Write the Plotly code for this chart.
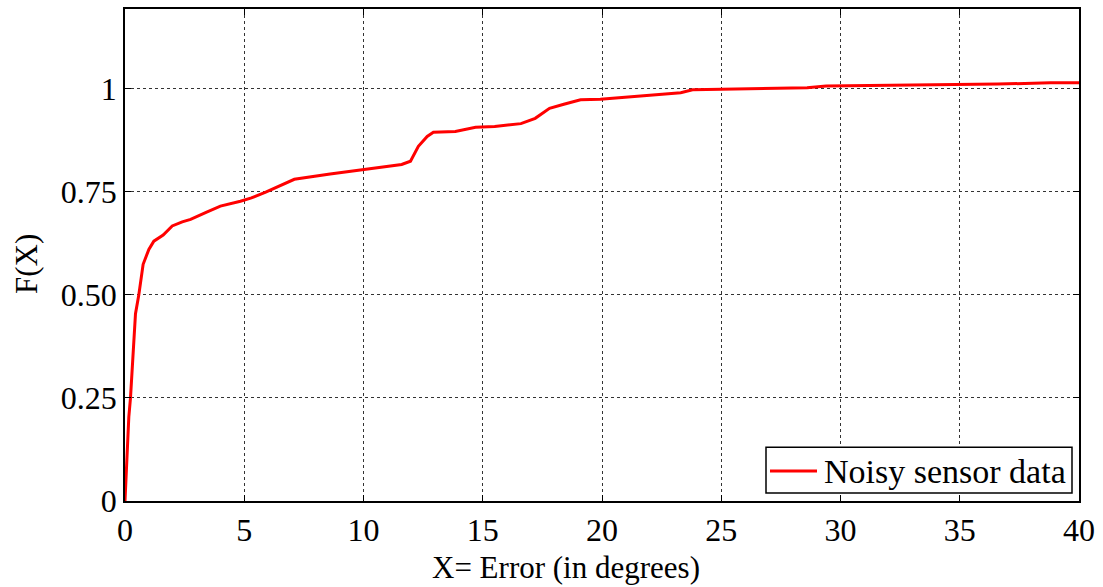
import plotly.graph_objects as go

# Empirical CDF of orientation error for the noisy sensor
error_deg = [0, 0.06, 0.16, 0.23, 0.37, 0.44, 0.58, 0.76, 1.0, 1.21, 1.6, 1.98, 2.4, 2.75,
             3.4, 4.0, 4.84, 5.3, 5.9, 6.5, 7.1, 8.6, 10.0, 10.9, 11.6, 11.97, 12.3, 12.67,
             12.93, 13.85, 14.7, 15.5, 16.6, 17.2, 17.8, 18.4, 19.1, 19.93, 21.3, 23.3, 23.8,
             25.9, 28.6, 29.4, 31.4, 34.5, 36.6, 38.8, 40]
cdf_vals = [0, 0.083, 0.204, 0.25, 0.405, 0.454, 0.5, 0.574, 0.61, 0.630, 0.645, 0.667,
            0.677, 0.683, 0.70, 0.715, 0.727, 0.735, 0.749, 0.765, 0.78, 0.793, 0.804, 0.81,
            0.816, 0.824, 0.86, 0.884, 0.894, 0.896, 0.906, 0.908, 0.915, 0.928, 0.952, 0.962,
            0.973, 0.974, 0.981, 0.990, 0.997, 0.999, 1.002, 1.006, 1.007, 1.009, 1.011,
            1.014, 1.014]

x_ticks = [0, 5, 10, 15, 20, 25, 30, 35, 40]
y_ticks = [0, 0.25, 0.5, 0.75, 1]
y_tick_text = ["0", "0.25", "0.50", "0.75", "1"]

x_title = "X= Error (in degrees)"
y_title = "F(X)"
series_name = "Noisy sensor data"

FONT = "Liberation Serif"
LINE_COLOR = "#ff0000"

# Plot-area geometry in pixels (used to place the legend box and titles)
W, H = 1103, 587
L, R, T, B = 125, 24, 7, 86
PW, PH = W - L - R, H - T - B


def px_x(px):
    return (px - L) / PW


def px_y(py):
    return (H - B - py) / PH


fig = go.Figure()
fig.add_trace(go.Scatter(
    x=error_deg, y=cdf_vals, mode="lines",
    line=dict(color=LINE_COLOR, width=3),
    name=series_name, showlegend=False,
))

axis_common = dict(
    showline=True, linecolor="black", linewidth=1.5, mirror="ticks",
    ticks="inside", ticklen=6, tickcolor="black", tickwidth=1,
    showgrid=True, gridcolor="#333333", gridwidth=1, griddash="dot",
    zeroline=False,
    tickfont=dict(family=FONT, size=32, color="black"),
)

fig.update_layout(
    width=W, height=H,
    margin=dict(l=L, r=R, t=T, b=B),
    paper_bgcolor="white", plot_bgcolor="white",
    font=dict(family=FONT, color="black"),
    xaxis=dict(range=[0, 40], tickvals=x_ticks, **axis_common),
    yaxis=dict(range=[0, 1.193], tickvals=y_ticks, ticktext=y_tick_text, **axis_common),
)

# Legend box in the lower-right corner
fig.add_shape(type="rect", xref="paper", yref="paper",
              x0=px_x(766), x1=px_x(1072), y0=px_y(493), y1=px_y(447),
              line=dict(color="black", width=1.5), fillcolor="white", layer="above")
fig.add_shape(type="line", xref="paper", yref="paper",
              x0=px_x(770), x1=px_x(817), y0=px_y(471), y1=px_y(471),
              line=dict(color=LINE_COLOR, width=3), layer="above")
fig.add_annotation(text=series_name, xref="paper", yref="paper",
                   x=px_x(822), y=px_y(471), xanchor="left", yanchor="middle",
                   showarrow=False, font=dict(family=FONT, size=34, color="black"))

# Axis titles
fig.add_annotation(text=x_title, xref="paper", yref="paper",
                   x=px_x(566), y=px_y(568),
                   xanchor="center", yanchor="middle", showarrow=False,
                   font=dict(family=FONT, size=31, color="black"))
fig.add_annotation(text=y_title, xref="paper", yref="paper",
                   x=px_x(27), y=px_y(263),
                   xanchor="center", yanchor="middle", showarrow=False, textangle=-90,
                   font=dict(family=FONT, size=31, color="black"))

fig.write_html("out.html")
